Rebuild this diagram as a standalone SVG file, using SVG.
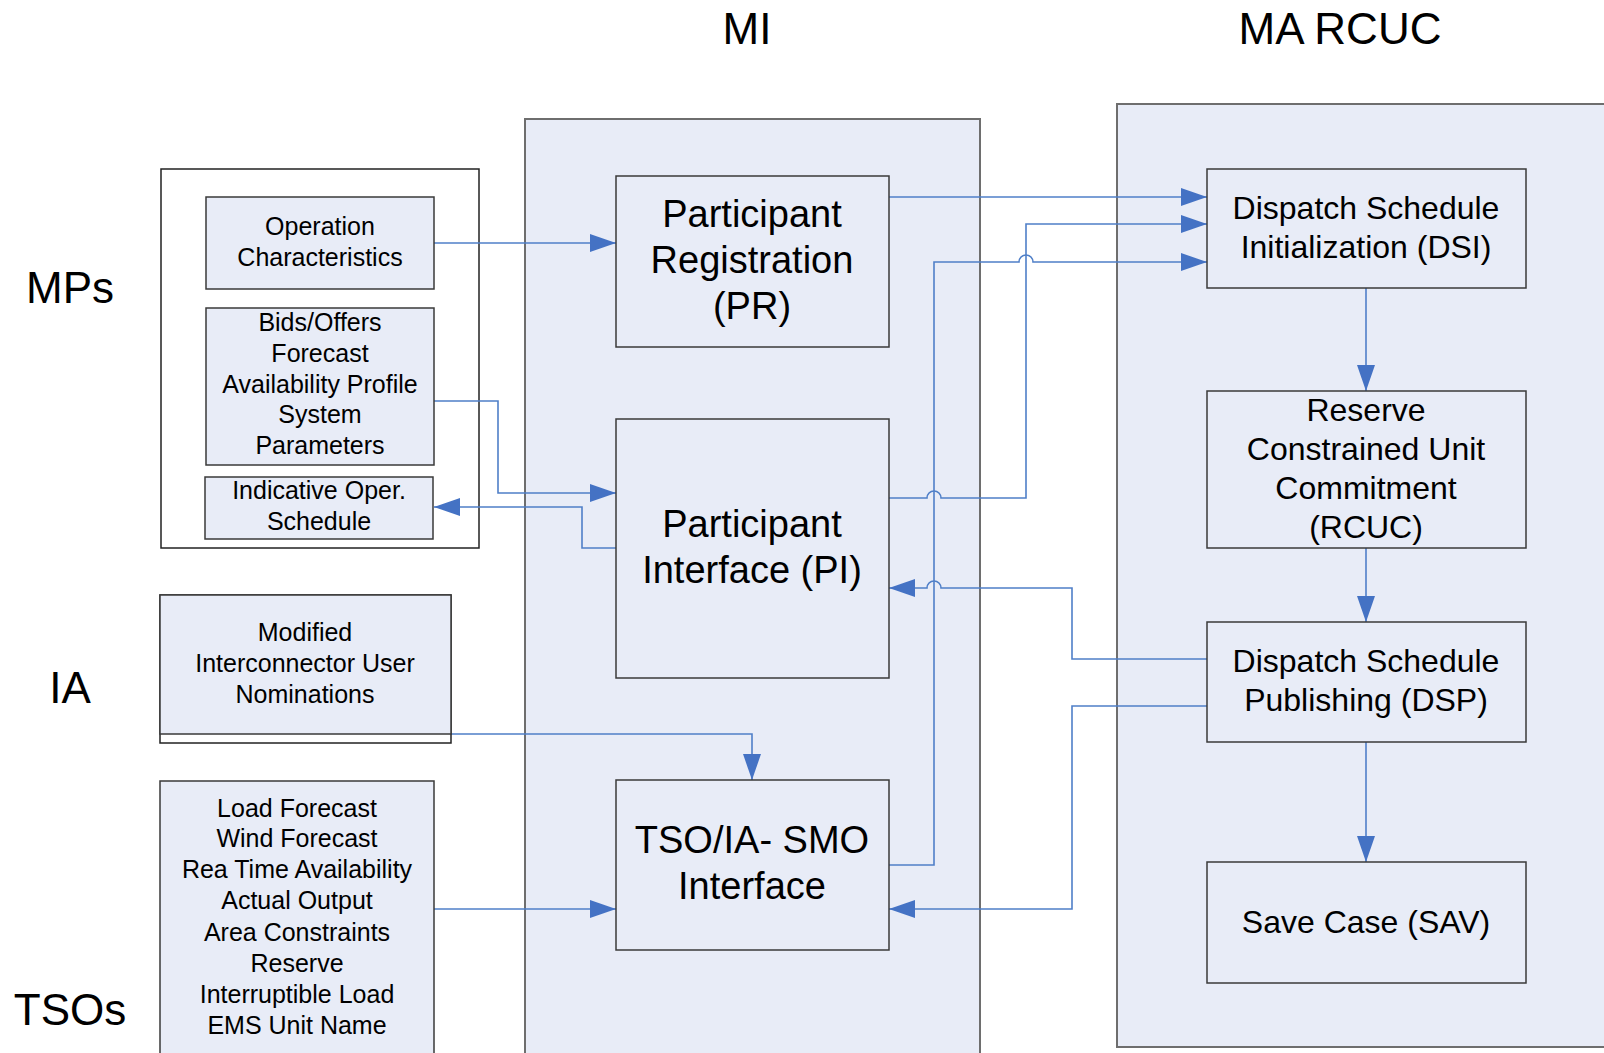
<svg xmlns="http://www.w3.org/2000/svg" width="1604" height="1053" viewBox="0 0 1604 1053">
<defs>
<style>
.cont{fill:#E8ECF7;stroke:#6E6E6E;stroke-width:2}
.box{fill:#E8ECF7;stroke:#3A3A3A;stroke-width:1.5}
.wbox{fill:#FFFFFF;stroke:#222;stroke-width:1.5}
.conn{fill:none;stroke:#4F7FC8;stroke-width:1.6}
text{font-family:"Liberation Sans",Arial,sans-serif;fill:#000;text-anchor:middle}
.t44{font-size:44px}
.t38{font-size:38px}
.t32{font-size:32px}
.t25{font-size:25px}
</style>
<marker id="ah" markerUnits="userSpaceOnUse" viewBox="0 0 26 18" refX="26" refY="9" markerWidth="26" markerHeight="18" orient="auto">
<path d="M0,0 L26,9 L0,18 z" fill="#4472C4"/>
</marker>
</defs>
<rect width="1604" height="1053" fill="#FFFFFF"/>

<g id="titles">
<text class="t44" x="747" y="44">MI</text>
<text class="t44" x="1340" y="44">MA RCUC</text>
<text class="t44" x="70" y="303">MPs</text>
<text class="t44" x="70" y="703">IA</text>
<text class="t44" x="70" y="1025">TSOs</text>
</g>

<g id="containers">
<rect id="MI" class="cont" x="525" y="119" width="455" height="950"/>
<rect id="MA_RCUC" class="cont" x="1117" y="104" width="500" height="943"/>
<rect id="MPs" class="wbox" x="161" y="169" width="318" height="379" stroke-width="1.5"/>
</g>

<g id="connectors">
<path class="conn" d="M434,243 H616" marker-end="url(#ah)"/>
<path class="conn" d="M434,401 H498 V493 H616" marker-end="url(#ah)"/>
<path class="conn" d="M616,548 H582 V507 H434" marker-end="url(#ah)"/>
<path class="conn" d="M451,734 H752 V780" marker-end="url(#ah)"/>
<path class="conn" d="M434,909 H616" marker-end="url(#ah)"/>
<path class="conn" d="M889,197 H1207" marker-end="url(#ah)"/>
<path class="conn" d="M889,498 H927 A7,7 0 0 1 941,498 H1026 V224 H1207" marker-end="url(#ah)"/>
<path class="conn" d="M889,865 H934 V262 H1019 A7,7 0 0 1 1033,262 H1207" marker-end="url(#ah)"/>
<path class="conn" d="M1207,659 H1072 V588 H941 A7,7 0 0 0 927,588 H889" marker-end="url(#ah)"/>
<path class="conn" d="M1207,706 H1072 V909 H889" marker-end="url(#ah)"/>
<path class="conn" d="M1366,288 V391" marker-end="url(#ah)"/>
<path class="conn" d="M1366,548 V622" marker-end="url(#ah)"/>
<path class="conn" d="M1366,742 V862" marker-end="url(#ah)"/>
</g>

<g id="OperationCharacteristics">
<rect class="box" x="206" y="197" width="228" height="92"/>
<text class="t25" x="320" y="235">Operation</text>
<text class="t25" x="320" y="266">Characteristics</text>
</g>

<g id="BidsOffers">
<rect class="box" x="206" y="308" width="228" height="157"/>
<text class="t25" x="320" y="331">Bids/Offers</text>
<text class="t25" x="320" y="362">Forecast</text>
<text class="t25" x="320" y="393">Availability Profile</text>
<text class="t25" x="320" y="423">System</text>
<text class="t25" x="320" y="454">Parameters</text>
</g>

<g id="IndicativeOperSchedule">
<rect class="box" x="205" y="477" width="228" height="62"/>
<text class="t25" x="319" y="499">Indicative Oper.</text>
<text class="t25" x="319" y="530">Schedule</text>
</g>

<g id="ModifiedNominations">
<rect class="wbox" x="160" y="595" width="291" height="148"/>
<rect class="box" x="160" y="595" width="291" height="139" stroke="#222" stroke-width="2"/>
<text class="t25" x="305" y="641">Modified</text>
<text class="t25" x="305" y="672">Interconnector User</text>
<text class="t25" x="305" y="703">Nominations</text>
</g>

<g id="TSOData">
<rect class="box" x="160" y="781" width="274" height="290"/>
<text class="t25" x="297" y="817">Load Forecast</text>
<text class="t25" x="297" y="847">Wind Forecast</text>
<text class="t25" x="297" y="878">Rea Time Availability</text>
<text class="t25" x="297" y="909">Actual Output</text>
<text class="t25" x="297" y="941">Area Constraints</text>
<text class="t25" x="297" y="972">Reserve</text>
<text class="t25" x="297" y="1003">Interruptible Load</text>
<text class="t25" x="297" y="1034">EMS Unit Name</text>
</g>

<g id="PR">
<rect class="box" x="616" y="176" width="273" height="171"/>
<text class="t38" x="752" y="227">Participant</text>
<text class="t38" x="752" y="273">Registration</text>
<text class="t38" x="752" y="319">(PR)</text>
</g>

<g id="PI">
<rect class="box" x="616" y="419" width="273" height="259"/>
<text class="t38" x="752" y="537">Participant</text>
<text class="t38" x="752" y="583">Interface (PI)</text>
</g>

<g id="TSOIA_SMO">
<rect class="box" x="616" y="780" width="273" height="170"/>
<text class="t38" x="752" y="853">TSO/IA- SMO</text>
<text class="t38" x="752" y="899">Interface</text>
</g>

<g id="DSI">
<rect class="box" x="1207" y="169" width="319" height="119"/>
<text class="t32" x="1366" y="219">Dispatch Schedule</text>
<text class="t32" x="1366" y="258">Initialization (DSI)</text>
</g>

<g id="RCUC">
<rect class="box" x="1207" y="391" width="319" height="157"/>
<text class="t32" x="1366" y="421">Reserve</text>
<text class="t32" x="1366" y="460">Constrained Unit</text>
<text class="t32" x="1366" y="499">Commitment</text>
<text class="t32" x="1366" y="538">(RCUC)</text>
</g>

<g id="DSP">
<rect class="box" x="1207" y="622" width="319" height="120"/>
<text class="t32" x="1366" y="672">Dispatch Schedule</text>
<text class="t32" x="1366" y="711">Publishing (DSP)</text>
</g>

<g id="SAV">
<rect class="box" x="1207" y="862" width="319" height="121"/>
<text class="t32" x="1366" y="933">Save Case (SAV)</text>
</g>
</svg>
